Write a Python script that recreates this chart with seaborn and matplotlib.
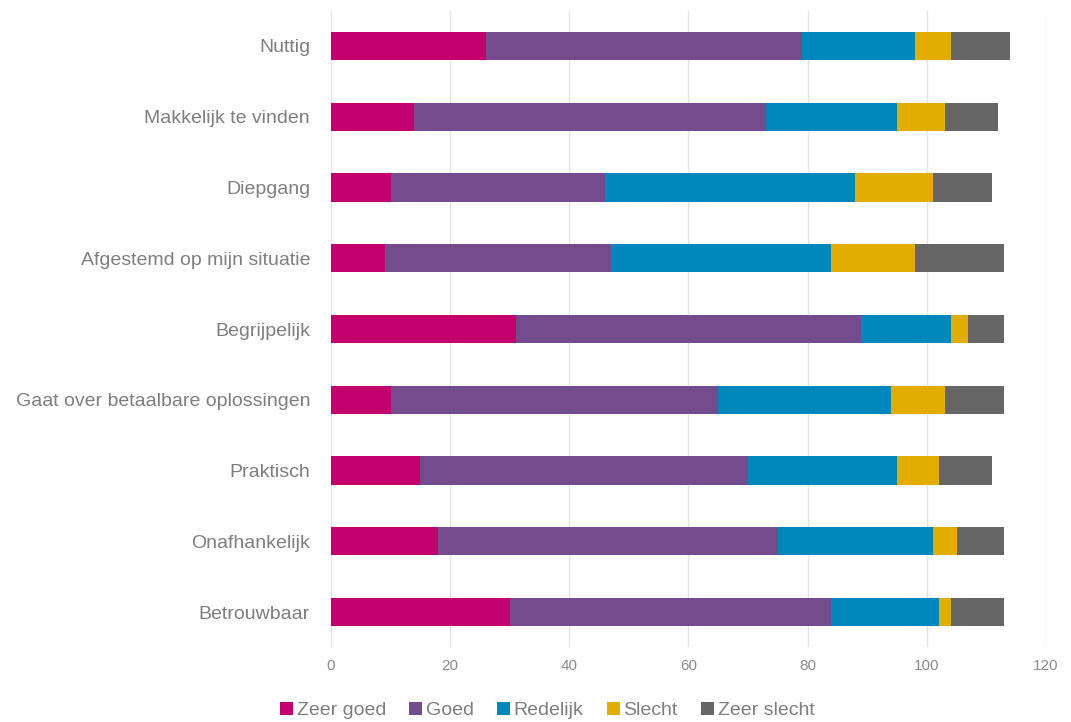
import numpy as np
import pandas as pd
import matplotlib
matplotlib.use("Agg")
import matplotlib.pyplot as plt
from matplotlib import font_manager
from matplotlib.patches import Patch
import seaborn as sns

categories = [
    "Nuttig",
    "Makkelijk te vinden",
    "Diepgang",
    "Afgestemd op mijn situatie",
    "Begrijpelijk",
    "Gaat over betaalbare oplossingen",
    "Praktisch",
    "Onafhankelijk",
    "Betrouwbaar",
]
series = ["Zeer goed", "Goed", "Redelijk", "Slecht", "Zeer slecht"]
zeer_goed = [26, 14, 10, 9, 31, 10, 15, 18, 30]
goed = [53, 59, 36, 38, 58, 55, 55, 57, 54]
redelijk = [19, 22, 42, 37, 15, 29, 25, 26, 18]
slecht = [6, 8, 13, 14, 3, 9, 7, 4, 2]
zeer_slecht = [10, 9, 10, 15, 6, 10, 9, 8, 9]
x_ticks = [0, 20, 40, 60, 80, 100, 120]

colors = ["#C4006F", "#744C8E", "#0088BC", "#E3AD00", "#666666"]

sns.set_theme(style="white")
available = {f.name for f in font_manager.fontManager.ttflist}
fam = [f for f in ["Liberation Sans Narrow", "Liberation Sans", "DejaVu Sans"] if f in available]
plt.rcParams["font.family"] = fam

df = pd.DataFrame({"cat": categories})
vals = np.array([zeer_goed, goed, redelijk, slecht, zeer_slecht], dtype=float)
cum = np.cumsum(vals, axis=0)

fig = plt.figure(figsize=(10.71, 7.22), dpi=100)
ax = fig.add_axes([0.309, 0.1033, 0.6676, 0.882])

# stacked bars: draw cumulative totals from the outermost segment inwards
for i in range(len(series) - 1, -1, -1):
    d = df.copy()
    d["val"] = cum[i]
    sns.barplot(data=d, x="val", y="cat", orient="h", color=colors[i],
                saturation=1, width=0.4, ax=ax, edgecolor="none", linewidth=0)

ax.set_xlim(0, 120)
ax.set_xticks(x_ticks)
ax.set_xlabel("")
ax.set_ylabel("")
ax.xaxis.grid(True, color="#E3E3E3", linewidth=1)
ax.set_axisbelow(True)
for s in ax.spines.values():
    s.set_visible(False)
ax.tick_params(axis="x", colors="#8C8C8C", labelsize=11, length=0, pad=8)
ax.tick_params(axis="y", colors="#7F7F7F", labelsize=14, length=0, pad=15)

handles = [Patch(facecolor=c, edgecolor="none") for c in colors]
leg = fig.legend(handles, series, loc="center", bbox_to_anchor=(0.511, 0.016),
                 ncol=5, frameon=False, fontsize=14, handlelength=0.65,
                 handleheight=0.65, handletextpad=0.2, columnspacing=1.2)
for t in leg.get_texts():
    t.set_color("#7F7F7F")

fig.savefig("out.png", dpi=100)
